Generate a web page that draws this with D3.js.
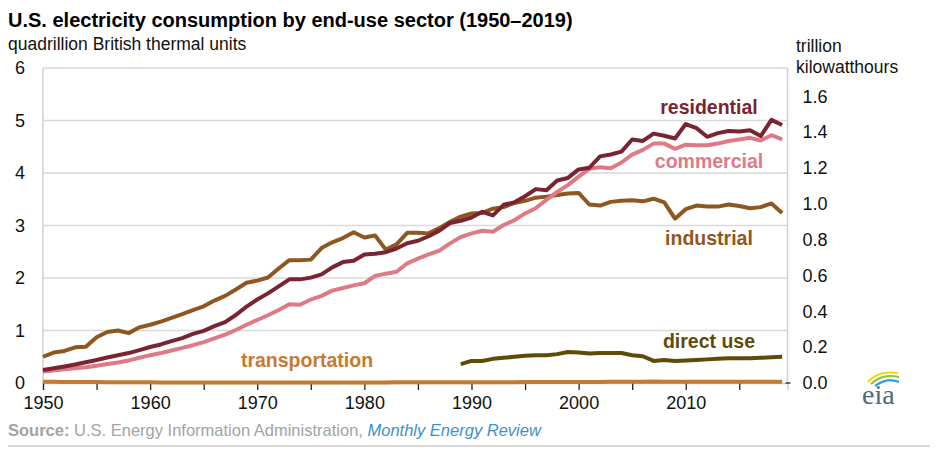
<!DOCTYPE html>
<html>
<head>
<meta charset="utf-8">
<script src="https://cdn.jsdelivr.net/npm/d3@7"></script>
<style>
  body { margin: 0; background: #fff; }
  svg { font-family: "Liberation Sans", Arial, sans-serif; }
</style>
</head>
<body>
<svg id="chart"></svg>
<script>
// U.S. electricity consumption by end-use sector, quadrillion Btu
const years = d3.range(1950, 2020);

const residential = [
  0.246, 0.280, 0.316, 0.352, 0.396, 0.438, 0.487, 0.529, 0.570, 0.626,
  0.685, 0.734, 0.798, 0.856, 0.936, 0.993, 1.083, 1.161, 1.296, 1.454,
  1.591, 1.707, 1.840, 1.975, 1.974, 2.007, 2.069, 2.202, 2.303, 2.329,
  2.448, 2.463, 2.492, 2.562, 2.662, 2.709, 2.795, 2.902, 3.047, 3.090,
  3.153, 3.260, 3.193, 3.394, 3.441, 3.557, 3.693, 3.671, 3.856, 3.906,
  4.068, 4.100, 4.317, 4.353, 4.408, 4.638, 4.611, 4.750, 4.709, 4.656,
  4.933, 4.855, 4.690, 4.759, 4.801, 4.791, 4.815, 4.704, 5.012, 4.914
];

const commercial = [
  0.22, 0.24, 0.26, 0.28, 0.30, 0.33, 0.36, 0.39, 0.43, 0.48,
  0.53, 0.57, 0.62, 0.67, 0.72, 0.78, 0.85, 0.92, 1.01, 1.11,
  1.20, 1.29, 1.39, 1.50, 1.49, 1.59, 1.66, 1.76, 1.81, 1.86,
  1.90, 2.04, 2.08, 2.12, 2.28, 2.37, 2.45, 2.52, 2.66, 2.78,
  2.85, 2.90, 2.88, 3.01, 3.10, 3.23, 3.33, 3.49, 3.64, 3.77,
  3.93, 4.08, 4.11, 4.09, 4.20, 4.35, 4.44, 4.56, 4.56, 4.46,
  4.54, 4.53, 4.53, 4.56, 4.61, 4.64, 4.67, 4.62, 4.72, 4.64
];

const industrial = [
  0.50, 0.58, 0.61, 0.68, 0.69, 0.87, 0.97, 1.00, 0.95, 1.06,
  1.11, 1.17, 1.24, 1.31, 1.39, 1.46, 1.57, 1.66, 1.78, 1.91,
  1.95, 2.01, 2.18, 2.34, 2.34, 2.35, 2.57, 2.68, 2.76, 2.87,
  2.77, 2.81, 2.54, 2.64, 2.86, 2.86, 2.85, 2.95, 3.07, 3.17,
  3.23, 3.24, 3.32, 3.35, 3.43, 3.47, 3.53, 3.55, 3.58, 3.61,
  3.62, 3.40, 3.38, 3.45, 3.47, 3.48, 3.46, 3.51, 3.44, 3.13,
  3.31, 3.38, 3.36, 3.36, 3.40, 3.37, 3.33, 3.35, 3.42, 3.24
];

const transportation = [
  0.022, 0.022, 0.021, 0.020, 0.018, 0.017, 0.016, 0.015, 0.014, 0.013,
  0.012, 0.011, 0.011, 0.011, 0.011, 0.010, 0.010, 0.010, 0.011, 0.011,
  0.011, 0.011, 0.010, 0.010, 0.010, 0.010, 0.010, 0.010, 0.010, 0.010,
  0.011, 0.011, 0.011, 0.012, 0.012, 0.013, 0.014, 0.014, 0.015, 0.015,
  0.016, 0.016, 0.016, 0.016, 0.016, 0.017, 0.017, 0.017, 0.017, 0.018,
  0.018, 0.019, 0.019, 0.023, 0.025, 0.026, 0.025, 0.028, 0.026, 0.026,
  0.026, 0.026, 0.025, 0.025, 0.026, 0.026, 0.025, 0.025, 0.026, 0.026
];

// direct use only reported from 1989
const directUseYears = d3.range(1989, 2020);
const directUse = [
  0.36, 0.42, 0.42, 0.46, 0.48, 0.50, 0.52, 0.53, 0.53, 0.55,
  0.59, 0.58, 0.56, 0.57, 0.57, 0.57, 0.53, 0.51, 0.42, 0.44,
  0.42, 0.43, 0.44, 0.45, 0.46, 0.47, 0.47, 0.47, 0.48, 0.49, 0.50
];

const leftTicks = [0, 1, 2, 3, 4, 5, 6];
const rightTicks = [0, 0.2, 0.4, 0.6, 0.8, 1.0, 1.2, 1.4, 1.6];
const KWH_PER_QUAD = 0.293071; // trillion kWh per quad Btu

const width = 938;
const height = 452;

const svg = d3.select("#chart")
  .attr("width", width)
  .attr("height", height);

const x = d3.scaleLinear().domain([1950, 2019.5]).range([43, 787.5]);
const y = d3.scaleLinear().domain([0, 6]).range([383, 68]);
const yRight = d3.scaleLinear().domain([0, 6 * KWH_PER_QUAD]).range([383, 68]);

// title
svg.append("text")
  .attr("x", 8).attr("y", 27)
  .attr("font-size", 20).attr("font-weight", "bold").attr("fill", "#000")
  .text("U.S. electricity consumption by end-use sector (1950–2019)");

svg.append("text")
  .attr("x", 8).attr("y", 50)
  .attr("font-size", 17.5).attr("fill", "#111")
  .text("quadrillion British thermal units");

svg.append("text")
  .attr("x", 796).attr("y", 52)
  .attr("font-size", 17.5).attr("fill", "#111")
  .text("trillion");
svg.append("text")
  .attr("x", 796).attr("y", 73)
  .attr("font-size", 17.5).attr("fill", "#111")
  .text("kilowatthours");

// grid
svg.append("g")
  .selectAll("line")
  .data(leftTicks.filter((d) => d > 0))
  .join("line")
  .attr("x1", x.range()[0]).attr("x2", x.range()[1])
  .attr("y1", (d) => y(d)).attr("y2", (d) => y(d))
  .attr("stroke", "#d9d9d9").attr("stroke-width", 1.5);

svg.append("g")
  .selectAll("line")
  .data(x.range())
  .join("line")
  .attr("x1", (d) => d).attr("x2", (d) => d)
  .attr("y1", y(6)).attr("y2", y(0))
  .attr("stroke", "#cfcfcf").attr("stroke-width", 1.5);

// axes
const xAxis = svg.append("g")
  .attr("transform", `translate(0,${y(0)})`)
  .call(
    d3.axisBottom(x)
      .tickValues(d3.range(1950, 2016, 5))
      .tickSize(7)
      .tickPadding(6)
      .tickFormat((d) => (d % 10 === 0 ? d : ""))
  );
xAxis.select(".domain").attr("stroke", "#cfcfcf").attr("stroke-width", 1.5);
xAxis.selectAll(".tick line").attr("stroke", "#222").attr("stroke-width", 1.3);
xAxis.selectAll(".tick text").attr("font-size", 18).attr("fill", "#111")
  .attr("font-family", "'Liberation Sans', Arial, sans-serif");

const yAxis = svg.append("g")
  .attr("transform", `translate(${x.range()[0]},0)`)
  .call(
    d3.axisLeft(y).tickValues(leftTicks).tickSize(0).tickPadding(18)
      .tickFormat(d3.format("d"))
  );
yAxis.select(".domain").remove();
yAxis.selectAll("text").attr("font-size", 18).attr("fill", "#111")
  .attr("font-family", "'Liberation Sans', Arial, sans-serif");

const yAxisR = svg.append("g")
  .attr("transform", `translate(${x.range()[1]},0)`)
  .call(
    d3.axisRight(yRight).tickValues(rightTicks).tickSize(0).tickPadding(15)
      .tickFormat(d3.format(".1f"))
  );
yAxisR.select(".domain").remove();
yAxisR.selectAll("text").attr("font-size", 18).attr("fill", "#111")
  .attr("font-family", "'Liberation Sans', Arial, sans-serif");

svg.append("line")
  .attr("x1", x.range()[1] - 2).attr("x2", x.range()[1] + 3)
  .attr("y1", y(0)).attr("y2", y(0))
  .attr("stroke", "#222").attr("stroke-width", 1.3);

// series
const series = [
  { name: "transportation", years: years, values: transportation, color: "#c57a2f" },
  { name: "direct use", years: directUseYears, values: directUse, color: "#5f4b07" },
  { name: "industrial", years: years, values: industrial, color: "#8f5720" },
  { name: "commercial", years: years, values: commercial, color: "#de7a86" },
  { name: "residential", years: years, values: residential, color: "#7a2431" }
];

const line = d3.line()
  .x((d) => x(d[0]))
  .y((d) => y(d[1]));

svg.append("g")
  .selectAll("path")
  .data(series)
  .join("path")
  .attr("fill", "none")
  .attr("stroke", (d) => d.color)
  .attr("stroke-width", 4)
  .attr("stroke-linejoin", "round")
  .attr("d", (d) => line(d.years.map((yr, i) => [yr, d.values[i]])));

// series labels
const labels = [
  { text: "residential", x: 709, y: 114, color: "#7a2431" },
  { text: "commercial", x: 709, y: 168, color: "#de7a86" },
  { text: "industrial", x: 709, y: 245, color: "#8f5720" },
  { text: "direct use", x: 709, y: 348, color: "#5f4b07" },
  { text: "transportation", x: 307, y: 367, color: "#c57a2f" }
];

svg.append("g")
  .selectAll("text")
  .data(labels)
  .join("text")
  .attr("x", (d) => d.x)
  .attr("y", (d) => d.y)
  .attr("text-anchor", "middle")
  .attr("font-size", 19.5)
  .attr("font-weight", "bold")
  .attr("fill", (d) => d.color)
  .text((d) => d.text);

// source
const source = svg.append("text")
  .attr("x", 8).attr("y", 436)
  .attr("font-size", 16.5).attr("fill", "#a3a3a3");
source.append("tspan").attr("font-weight", "bold").text("Source:");
source.append("tspan").text(" U.S. Energy Information Administration, ");
source.append("tspan").attr("fill", "#3d8fd1").attr("font-style", "italic")
  .text("Monthly Energy Review");

svg.append("line")
  .attr("x1", 8).attr("x2", 930)
  .attr("y1", 446).attr("y2", 446)
  .attr("stroke", "#d6d6d6").attr("stroke-width", 2);

// eia logo
const logo = svg.append("g").attr("transform", "translate(862,404)");
logo.append("path").attr("d", "M6,-22 Q16,-34 36,-31")
  .attr("fill", "none").attr("stroke", "#f2d900").attr("stroke-width", 2);
logo.append("path").attr("d", "M9,-20 Q20,-31 37,-27")
  .attr("fill", "none").attr("stroke", "#8cc63f").attr("stroke-width", 2);
logo.append("path").attr("d", "M13,-18 Q25,-27 37,-22")
  .attr("fill", "none").attr("stroke", "#1c9ad6").attr("stroke-width", 2);
logo.append("text")
  .attr("x", 0).attr("y", 0)
  .attr("font-family", "'Liberation Serif', 'Times New Roman', serif")
  .attr("font-size", 28).attr("fill", "#56677a")
  .text("eia");
</script>
</body>
</html>
